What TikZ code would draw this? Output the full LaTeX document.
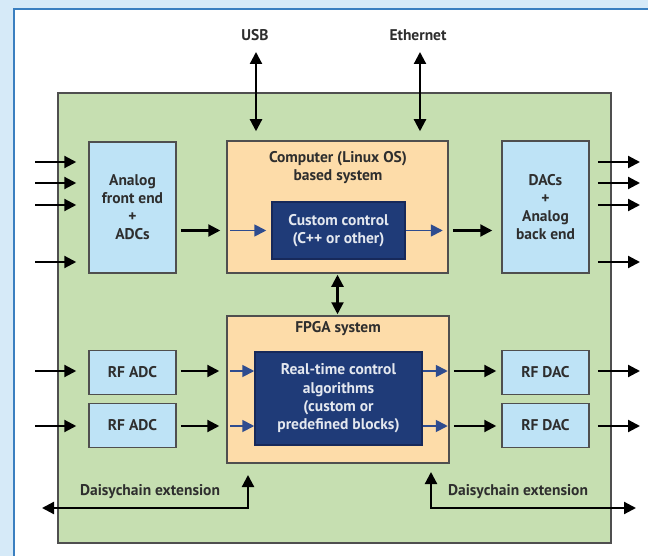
\documentclass[tikz,border=0pt]{standalone}
\usepackage{fontspec}
\setmainfont{PT Sans}
\usetikzlibrary{arrows.meta}

\definecolor{pageblue}{HTML}{D6EAF8}
\definecolor{frameblue}{HTML}{3A7FC0}
\definecolor{boardgreen}{HTML}{C6DFB1}
\definecolor{sysorange}{HTML}{FDDCA9}
\definecolor{convblue}{HTML}{BEE3F6}
\definecolor{navy}{HTML}{1F3B78}
\definecolor{navyedge}{HTML}{17295A}
\definecolor{flowblue}{HTML}{2E4C8F}
\definecolor{edgegray}{HTML}{4F4F4F}
\definecolor{inkgray}{HTML}{2E2E2E}

\tikzset{
  txt/.style={font=\bfseries\fontsize{15.5}{18}\selectfont, text=inkgray, align=center},
  boxbase/.style={draw=edgegray, line width=1.5pt, inner sep=0pt, txt},
  convbox/.style={boxbase, fill=convblue},
  sysbox/.style={boxbase, fill=sysorange},
  corebox/.style={draw=navyedge, line width=1.5pt, fill=navy, inner sep=0pt,
    font=\bfseries\fontsize{15.5}{18.3}\selectfont, text=white!88!navy, align=center},
  arr/.style={draw=black, line width=2.2pt, -{Triangle[length=12pt,width=12pt]}},
  dblarr/.style={draw=black, line width=2.2pt, {Triangle[length=12pt,width=12pt]}-{Triangle[length=12pt,width=12pt]}},
  flow/.style={draw=flowblue, line width=1.8pt, -{Triangle[length=12pt,width=12pt]}},
}

\begin{document}
\begin{tikzpicture}[x=1pt, y=-1pt]
  \useasboundingbox (0,0) rectangle (648,556);

  % page frame
  \fill[pageblue] (0,0) rectangle (648,556);
  \fill[white] (14,9) rectangle (648,556);
  \draw[frameblue, line width=1.5pt] (14,556) -- (14,9) -- (648,9);

  % board
  \node[draw=edgegray, line width=1.8pt, fill=boardgreen, minimum width=553pt,
        minimum height=450pt, inner sep=0pt] (board) at (334.5,318) {};

  % blocks
  \node[convbox, minimum width=87pt, minimum height=131pt] (afe) at (132.5,207.5)
    {Analog\\front end\\+\\ADCs};
  \node[sysbox, minimum width=221pt, minimum height=132pt] (comp) at (337.5,207) {};
  \node[txt] (comptitle) at (338,168) {Computer (Linux OS)\\based system};
  \node[corebox, minimum width=133pt, minimum height=57pt] (cc) at (338.5,230.5)
    {Custom control\\(C++ or other)};
  \node[convbox, minimum width=87pt, minimum height=132pt] (dac) at (545.5,207)
    {DACs\\+\\Analog\\back end};

  \node[sysbox, minimum width=222pt, minimum height=147pt] (fpga) at (338,389.5) {};
  \node[txt] (fpgatitle) at (338,329) {FPGA system};
  \node[corebox, minimum width=167pt, minimum height=93pt] (rt) at (338.5,398.5)
    {Real-time control\\algorithms\\(custom or\\predefined blocks)};

  \node[convbox, minimum width=87pt, minimum height=44pt] (radc1) at (132.5,372.5) {RF ADC};
  \node[convbox, minimum width=87pt, minimum height=44pt] (radc2) at (132.5,425.5) {RF ADC};
  \node[convbox, minimum width=87pt, minimum height=44pt] (rdac1) at (545.5,372.5) {RF DAC};
  \node[convbox, minimum width=87pt, minimum height=44pt] (rdac2) at (545.5,425.5) {RF DAC};

  % external interfaces
  \node[txt] (usb) at (255,35) {USB};
  \node[txt] (eth) at (418,35) {Ethernet};
  \coordinate (usbend) at (256,52);
  \coordinate (ethend) at (420,52);
  \draw[dblarr, shorten >=9pt] (usbend) -- (usbend |- comp.north);
  \draw[dblarr, shorten >=9pt] (ethend) -- (ethend |- comp.north);

  % analog inputs and outputs
  \foreach \y [count=\i] in {162,183,205,262} {
    \coordinate (ain\i) at (35,\y);
    \coordinate (aout\i) at (640,\y);
    \draw[arr, shorten >=12pt] (ain\i) -- (afe.west |- ain\i);
    \draw[arr, shorten <=8pt] (dac.east |- aout\i) -- (aout\i);
  }

  % computer path
  \draw[arr, shorten <=4pt, shorten >=6pt] (afe.east |- cc) -- (comp.west |- cc);
  \draw[flow, shorten <=4pt, shorten >=5pt] (comp.west |- cc) -- (cc.west);
  \draw[flow, shorten >=6pt] (cc.east) -- (comp.east |- cc);
  \draw[arr, shorten <=4pt, shorten >=9pt] (comp.east |- cc) -- (dac.west |- cc);

  % computer <-> FPGA
  \draw[dblarr, shorten <=1pt, shorten >=1pt] (comp.south) -- (comp.south |- fpga.north);

  % RF paths
  \foreach \a/\d/\y in {radc1/rdac1/371, radc2/rdac2/426} {
    \coordinate (rin-\a) at (35,\y);
    \coordinate (rout-\d) at (640,\y);
    \draw[arr, shorten >=12pt] (rin-\a) -- (\a.west |- rin-\a);
    \draw[arr, shorten <=4pt, shorten >=7pt] (\a.east |- rin-\a) -- (fpga.west |- rin-\a);
    \draw[flow, shorten <=4pt] (fpga.west |- rin-\a) -- (rt.west |- rin-\a);
    \draw[flow, shorten >=2pt] (rt.east |- rin-\a) -- (fpga.east |- rin-\a);
    \draw[arr, shorten <=4pt, shorten >=5pt] (fpga.east |- rin-\a) -- (\d.west |- rin-\a);
    \draw[arr, shorten <=8pt] (\d.east |- rout-\d) -- (rout-\d);
  }

  % daisychain links
  \coordinate (dcleft) at (42,508);
  \coordinate (dcltip) at (248,475);
  \coordinate (dcright) at (636,508);
  \coordinate (dcrtip) at (431,472);
  \draw[dblarr] (dcleft) -| (dcltip);
  \draw[dblarr] (dcrtip) |- (dcright);
  \node[txt] (dcllabel) at (150,492) {Daisychain extension};
  \node[txt] (dcrlabel) at (518,492) {Daisychain extension};
\end{tikzpicture}
\end{document}
